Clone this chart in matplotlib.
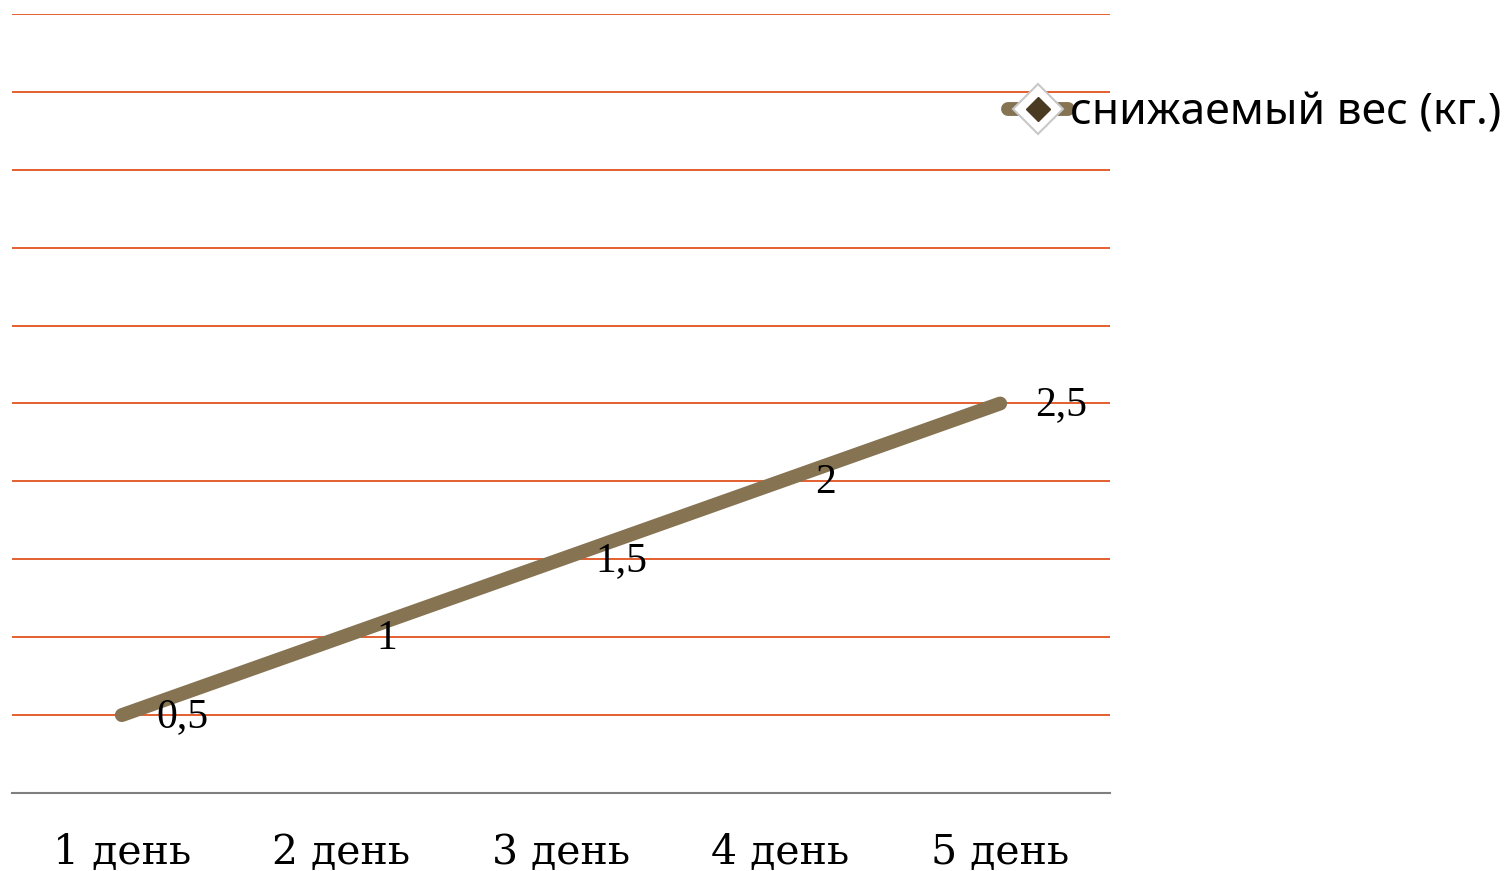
import matplotlib
matplotlib.use("Agg")
import matplotlib.pyplot as plt
from matplotlib.lines import Line2D

# Weight lost per day
days = ["1 день", "2 день", "3 день", "4 день", "5 день"]
weight_lost = [0.5, 1.0, 1.5, 2.0, 2.5]
value_labels = ["0,5", "1", "1,5", "2", "2,5"]
series_name = "снижаемый вес (кг.)"

line_color = "#857352"
grid_color = "#E2531F"

fig = plt.figure(figsize=(15.10, 8.71), dpi=100)
ax = fig.add_axes([12 / 1510, 78 / 871, 1098 / 1510, 779 / 871])

x = list(range(len(days)))
ax.plot(x, weight_lost, color=line_color, linewidth=10,
        solid_capstyle="round", solid_joinstyle="round", zorder=3)

for xi, yi, lab in zip(x, weight_lost, value_labels):
    ax.annotate(lab, (xi, yi), xytext=(25, -1),
                textcoords="offset points", ha="left", va="center",
                fontsize=30, family="Liberation Serif", color="black",
                zorder=4)

ax.set_xlim(-0.5, len(days) - 0.5)
ax.set_ylim(0, 5)
ax.set_yticks([0.5 * i for i in range(1, 11)])
ax.yaxis.grid(True, color=grid_color, linewidth=1.3)
ax.set_axisbelow(True)
ax.tick_params(axis="y", left=False, labelleft=False)
ax.tick_params(axis="x", bottom=False, pad=25)
ax.set_xticks(x)
ax.set_xticklabels(days, fontsize=29.5, family="DejaVu Serif")

for side in ("top", "right", "left"):
    ax.spines[side].set_visible(False)
ax.spines["bottom"].set_color("#7f7f7f")
ax.spines["bottom"].set_linewidth(1.5)

# Legend handle: thick line with a framed diamond marker
h_line = Line2D([], [], color=line_color, linewidth=10, solid_capstyle="round",
                marker="D", markersize=25, markerfacecolor="white",
                markeredgecolor="#c8c8c8", markeredgewidth=1.5)
h_dot = Line2D([], [], linestyle="none", marker="D", markersize=12,
               markerfacecolor="#4a3a22", markeredgecolor="#4a3a22")
fig.legend(handles=[(h_line, h_dot)], labels=[series_name],
           loc="center left", bbox_to_anchor=(1008 / 1510, 1 - 114 / 871),
           frameon=False, handlelength=1.35, handletextpad=0.05,
           borderaxespad=0, borderpad=0, prop={"family": "Noto Sans", "size": 32})

fig.savefig("out.png", dpi=100)
